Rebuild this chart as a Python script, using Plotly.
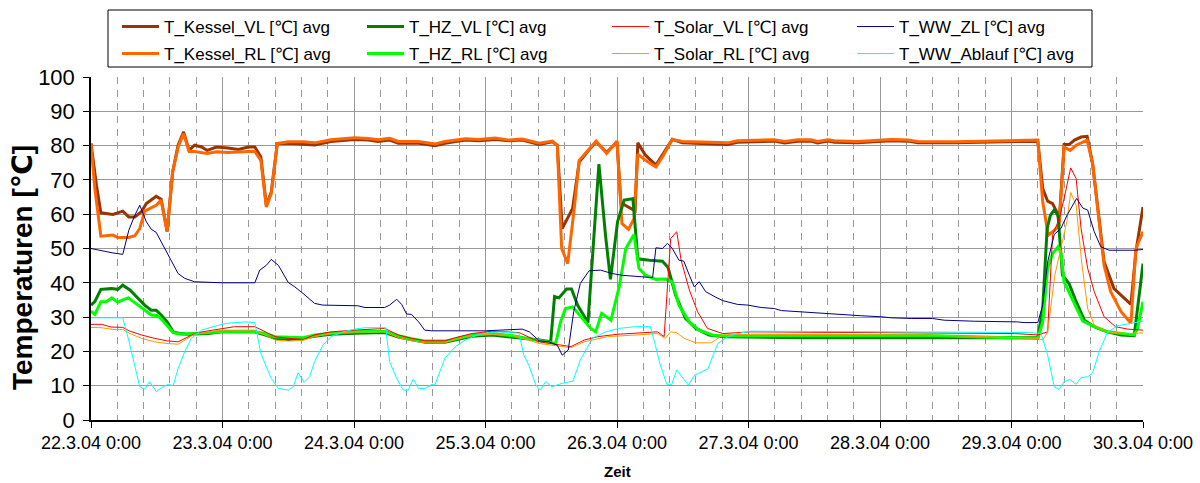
import plotly.graph_objects as go

# x axis: hours since 22.3.04 0:00, one labelled tick per day
tick_hours = [0, 24, 48, 72, 96, 120, 144, 168, 192]
tick_labels = ["22.3.04 0:00", "23.3.04 0:00", "24.3.04 0:00", "25.3.04 0:00",
               "26.3.04 0:00", "27.3.04 0:00", "28.3.04 0:00", "29.3.04 0:00",
               "30.3.04 0:00"]

# (hour, temperature) readings per sensor
kessel_vl = [(0, 80.6), (1.0, 68.4), (1.8, 60.4), (4.0, 59.9), (5.8, 60.9), (6.9, 59.2), (8.0, 59.2),
             (9.2, 60.7), (10.1, 63.1), (11.9, 65.2), (12.8, 64.4), (13.9, 55.0), (14.9, 72.3),
             (15.9, 80.1), (16.9, 84.0), (17.9, 78.6), (18.9, 80.1), (20.2, 79.6), (21.2, 78.6),
             (22.9, 79.6), (25.0, 79.3), (26.9, 78.9), (28.7, 79.6), (29.9, 79.6), (31.0, 76.7),
             (32.0, 62.6), (32.9, 66.5), (34.0, 80.6), (36.0, 80.7), (38.7, 80.3), (40.8, 80.2),
             (43.8, 81.2), (48.1, 81.8), (50.6, 81.6), (52.4, 81.2), (54.5, 81.6), (56.1, 80.7),
             (59.8, 80.7), (62.8, 80.0), (64.6, 80.7), (68.3, 81.6), (70.8, 81.4), (73.8, 81.8),
             (76.3, 81.4), (78.7, 81.6), (81.8, 80.3), (84.2, 81.1), (85.1, 80.1), (86.0, 55.8),
             (87.9, 61.7), (89.1, 75.2), (90.6, 78.2), (92.2, 81.1), (94.1, 78.0), (96.0, 81.1),
             (96.7, 63.3), (98.2, 62.1), (99.3, 61.0), (99.8, 80.8), (101.2, 77.2), (103.1, 74.3),
             (104.3, 77.2), (106.1, 81.8), (107.9, 80.8), (113.0, 80.6), (116.2, 80.3), (118.0, 81.0),
             (124.7, 81.3), (126.6, 80.8), (129.0, 81.3), (131.4, 81.3), (132.6, 80.8), (134.5, 81.3),
             (135.7, 81.0), (139.9, 80.8), (146.0, 81.4), (149.1, 81.3), (150.9, 80.8), (157.6, 80.8),
             (166.7, 81.0), (172.8, 81.3), (173.7, 67.5), (174.6, 63.8), (175.5, 63.1), (176.4, 60.2),
             (176.7, 57.8), (177.6, 80.3), (178.5, 80.3), (179.5, 81.6), (180.7, 82.5), (181.8, 82.7),
             (182.8, 74.8), (183.7, 62.6), (184.9, 46.1), (186.7, 38.3), (188.6, 35.4), (189.8, 33.7),
             (190.7, 49.0), (192, 62.1)]

kessel_rl = [(0, 80.6), (0.7, 67.5), (1.8, 53.6), (4.0, 53.9), (4.9, 53.2), (6.9, 53.2), (8.0, 53.7),
             (8.9, 55.8), (9.8, 60.9), (11.9, 62.6), (12.8, 64.1), (13.9, 54.9), (14.9, 72.3),
             (15.9, 79.6), (16.9, 83.5), (17.9, 78.3), (18.9, 78.3), (21.2, 77.7), (22.9, 78.2),
             (25.0, 78.0), (28.7, 78.3), (29.9, 78.3), (31.0, 75.7), (32.0, 62.1), (32.9, 66.0),
             (34.0, 80.6), (36.0, 81.1), (38.7, 81.1), (40.8, 80.8), (43.8, 81.7), (48.1, 82.3),
             (50.6, 82.1), (52.4, 81.7), (54.5, 82.1), (56.1, 81.2), (59.8, 81.2), (62.8, 80.5),
             (64.6, 81.2), (68.3, 82.0), (70.8, 81.8), (73.8, 82.2), (76.3, 81.6), (78.7, 81.9),
             (81.8, 80.7), (84.2, 81.3), (85.1, 80.1), (85.9, 50.0), (87.0, 45.6), (88.2, 61.7),
             (89.1, 75.7), (92.2, 81.3), (94.1, 77.7), (96.0, 81.3), (96.9, 57.3), (98.1, 55.6),
             (99.1, 58.7), (99.8, 77.5), (101.2, 75.7), (103.1, 73.8), (104.3, 76.7), (106.1, 81.8),
             (107.9, 81.2), (113.0, 81.0), (116.2, 80.8), (118.0, 81.4), (124.7, 81.7), (126.6, 81.2),
             (129.0, 81.7), (131.4, 81.7), (132.6, 81.2), (134.5, 81.7), (135.7, 81.4), (139.9, 81.2),
             (146.0, 81.8), (149.1, 81.6), (150.9, 81.2), (157.6, 81.1), (166.7, 81.3), (172.8, 81.6),
             (173.7, 63.6), (174.7, 53.9), (175.8, 55.3), (176.7, 56.8), (177.6, 79.6), (178.7, 78.6),
             (179.8, 80.1), (181.8, 81.6), (182.8, 74.8), (183.7, 61.7), (184.9, 45.1), (186.1, 37.4),
             (188.0, 31.6), (189.8, 28.2), (190.7, 50.0), (192, 54.9)]

hz_vl = [(0, 33.5), (0.7, 34.5), (1.8, 38.1), (3.7, 38.3), (4.9, 38.1), (5.8, 39.3), (7.1, 37.9),
         (8.6, 35.4), (9.8, 33.5), (11.0, 32.0), (11.9, 32.0), (12.8, 30.6), (13.9, 28.6), (15.0, 25.7),
         (16.2, 25.2), (17.7, 25.0), (21.4, 25.2), (23.8, 25.7), (29.9, 25.7), (31.7, 24.8),
         (33.6, 23.8), (36.0, 23.5), (38.7, 23.8), (40.8, 24.4), (43.8, 25.0), (48.1, 25.3),
         (53.6, 25.5), (56.1, 24.2), (58.5, 23.4), (61.0, 22.7), (64.6, 22.7), (66.5, 23.4),
         (69.5, 24.4), (73.2, 24.8), (77.2, 24.2), (81.8, 23.3), (83.9, 22.8), (84.6, 36.0),
         (85.4, 35.6), (86.8, 38.2), (87.7, 38.2), (88.8, 33.5), (90.7, 28.4), (92.7, 74.6),
         (93.9, 53.9), (94.8, 41.0), (96.1, 57.8), (97.3, 64.1), (98.9, 64.5), (99.8, 47.0),
         (101.9, 46.6), (104.3, 46.3), (105.3, 44.5), (106.7, 36.4), (108.5, 29.6), (110.4, 26.7),
         (112.8, 24.8), (115.5, 24.3), (130.0, 24.0), (153.0, 24.0), (158.8, 23.8), (172.8, 24.0),
         (173.7, 32.5), (174.5, 55.8), (175.1, 59.7), (175.8, 61.2), (176.5, 59.7), (177.3, 42.2),
         (178.5, 39.8), (179.8, 34.5), (181.3, 29.1), (183.1, 27.2), (185.5, 25.7), (188.0, 24.8),
         (190.4, 24.6), (191.0, 32.5), (192, 45.6)]

hz_rl = [(0, 31.7), (0.7, 30.8), (1.8, 34.5), (2.8, 34.5), (3.8, 35.6), (4.9, 34.3), (5.8, 35.0),
         (6.8, 35.6), (8.6, 33.5), (9.8, 32.0), (11.0, 30.6), (12.2, 30.4), (13.2, 28.8), (15.0, 25.5),
         (16.5, 25.0), (23.8, 25.7), (29.9, 25.7), (31.7, 25.2), (33.6, 24.3), (38.7, 24.0),
         (40.8, 24.8), (43.8, 25.3), (48.1, 25.7), (53.6, 25.9), (56.1, 24.6), (58.5, 23.7),
         (61.0, 23.0), (64.6, 23.0), (66.5, 23.6), (69.5, 24.8), (73.2, 25.2), (77.2, 24.5),
         (81.8, 23.3), (84.8, 22.3), (85.7, 28.6), (86.6, 32.5), (87.9, 33.0), (89.4, 30.1),
         (91.2, 26.7), (92.1, 25.7), (93.2, 31.1), (94.9, 29.1), (96.4, 38.8), (97.6, 50.0),
         (99.1, 54.1), (100.0, 44.2), (101.2, 42.2), (103.1, 41.0), (104.9, 41.1), (106.1, 40.3),
         (107.3, 33.5), (109.2, 28.6), (111.0, 26.2), (113.4, 24.8), (115.5, 24.5), (130.0, 24.6),
         (152.7, 24.6), (172.8, 23.8), (173.7, 28.6), (174.6, 44.2), (175.5, 48.5), (176.5, 50.5),
         (177.0, 49.0), (177.6, 40.3), (179.5, 34.0), (181.0, 28.8), (183.1, 27.2), (185.5, 25.7),
         (190.4, 24.8), (191.0, 26.7), (192, 34.5)]

solar_vl = [(0, 27.9), (1.9, 27.9), (3.7, 27.1), (5.8, 27.0), (7.1, 25.9), (9.2, 24.8), (11.6, 23.8),
            (13.8, 23.1), (15.9, 22.8), (17.1, 23.8), (18.9, 25.2), (21.4, 26.0), (23.8, 26.7),
            (26.2, 27.2), (29.9, 27.2), (31.7, 25.7), (33.6, 24.3), (36.0, 23.8), (38.7, 23.5),
            (40.8, 24.8), (43.8, 25.7), (48.1, 26.2), (53.6, 26.7), (56.1, 24.8), (58.5, 23.8),
            (61.0, 23.1), (64.6, 23.1), (66.5, 24.0), (69.5, 25.2), (73.2, 25.9), (78.1, 25.5),
            (81.8, 22.8), (84.2, 22.3), (87.6, 21.4), (90.0, 23.3), (92.5, 24.3), (96.1, 25.0),
            (101.6, 25.5), (103.4, 25.7), (104.6, 24.3), (105.8, 52.9), (106.9, 54.9), (107.7, 46.6),
            (109.2, 37.9), (110.7, 31.6), (112.5, 26.7), (115.3, 25.2), (120.5, 25.7), (152.7, 25.5),
            (168.5, 25.2), (172.8, 24.8), (174.6, 25.7), (175.5, 53.9), (176.7, 58.7), (177.6, 64.6),
            (178.8, 73.5), (179.8, 70.4), (180.7, 55.8), (181.9, 44.2), (183.1, 37.4), (184.9, 30.1),
            (187.0, 27.2), (189.2, 26.5), (192, 26.2)]

solar_rl = [(0, 27.0), (1.9, 26.9), (4.0, 26.4), (5.8, 26.4), (7.1, 25.2), (9.2, 23.8), (11.6, 22.8),
            (13.8, 22.3), (15.9, 22.1), (17.1, 23.3), (18.9, 25.0), (21.4, 25.7), (23.8, 26.2),
            (29.9, 26.2), (31.7, 24.8), (33.6, 23.3), (36.0, 23.0), (38.7, 23.2), (40.8, 24.3),
            (43.8, 25.2), (48.1, 25.7), (53.6, 25.7), (56.1, 24.0), (58.5, 23.1), (61.0, 22.5),
            (64.6, 22.5), (66.5, 23.5), (69.5, 24.6), (73.2, 25.0), (77.2, 24.6), (81.8, 22.3),
            (87.6, 21.1), (90.0, 22.8), (94.3, 24.3), (101.6, 25.0), (103.4, 25.2), (104.8, 23.8),
            (105.8, 25.7), (106.8, 25.5), (108.3, 23.8), (110.4, 22.5), (113.2, 22.5), (115.3, 24.8),
            (120.0, 25.0), (152.7, 24.8), (172.8, 23.8), (173.7, 23.3), (174.6, 25.7), (175.9, 42.2),
            (177.0, 50.0), (178.1, 57.8), (178.8, 66.3), (179.8, 62.6), (180.8, 46.1), (181.9, 32.5),
            (183.1, 27.7), (185.5, 25.7), (189.2, 25.2), (192, 25.4)]

ww_zl = [(0, 50.0), (1.9, 49.3), (4.0, 48.7), (5.8, 48.3), (6.9, 55.3), (8.0, 59.7), (8.9, 62.6),
         (10.1, 57.8), (11.0, 55.6), (11.9, 54.7), (13.2, 50.8), (14.4, 47.1), (15.9, 42.7),
         (17.1, 41.3), (18.9, 40.3), (24.0, 40.0), (29.9, 40.0), (30.8, 43.7), (32.0, 45.1),
         (32.9, 46.8), (34.2, 45.1), (36.0, 40.1), (37.2, 38.8), (38.7, 36.9), (40.8, 34.0),
         (42.3, 33.5), (48.7, 33.3), (50.0, 32.8), (53.6, 32.8), (54.5, 33.5), (55.8, 35.2),
         (56.7, 33.7), (57.6, 30.9), (58.5, 30.8), (59.8, 28.6), (60.9, 26.2), (62.2, 26.0),
         (72.0, 26.0), (78.7, 26.5), (80.0, 25.7), (81.8, 23.1), (83.6, 22.8), (85.1, 21.8),
         (86.0, 18.9), (87.1, 20.4), (88.1, 31.6), (89.3, 39.8), (90.9, 43.5), (93.0, 43.7),
         (95.1, 42.7), (96.9, 42.2), (99.3, 41.9), (102.5, 41.5), (103.1, 50.2), (104.3, 50.0),
         (105.2, 51.5), (106.1, 50.0), (107.3, 46.6), (108.2, 46.3), (109.2, 42.2), (110.1, 38.8),
         (111.0, 40.3), (112.2, 37.4), (113.9, 35.9), (115.3, 34.8), (118.0, 33.7), (119.9, 33.5),
         (122.3, 32.8), (124.7, 32.5), (126.0, 31.9), (129.0, 31.6), (132.0, 31.1), (135.7, 30.8),
         (140.5, 30.4), (144.2, 30.1), (146.0, 29.8), (149.7, 29.6), (153.6, 29.6), (155.7, 29.1),
         (161.2, 28.8), (169.1, 28.6), (170.3, 28.4), (172.8, 28.4), (173.7, 33.5), (174.6, 46.1),
         (175.8, 54.1), (177.0, 55.8), (178.2, 59.9), (179.9, 64.6), (181.0, 61.8), (181.9, 61.2),
         (183.1, 54.9), (184.3, 50.5), (185.8, 49.5), (190.4, 49.5), (192, 49.7)]

ww_ablauf = [(0, 29.8), (5.8, 29.8), (6.8, 23.8), (8.0, 16.0), (8.9, 9.7), (9.8, 9.0), (10.7, 11.2),
             (11.9, 8.3), (13.2, 9.7), (14.1, 10.4), (15.0, 10.0), (15.9, 15.0), (17.1, 19.9),
             (18.3, 23.8), (20.2, 26.2), (22.3, 27.2), (24.7, 28.2), (28.1, 28.6), (29.9, 28.4),
             (31.0, 19.4), (32.9, 12.1), (34.2, 9.2), (36.0, 8.7), (36.9, 9.7), (37.8, 13.8),
             (38.9, 11.0), (39.9, 12.6), (40.8, 17.0), (42.3, 21.8), (43.8, 24.3), (46.0, 25.7),
             (48.1, 26.5), (50.0, 26.9), (53.8, 26.9), (54.5, 17.0), (55.8, 12.1), (57.0, 8.7),
             (57.9, 8.7), (58.8, 11.9), (59.8, 9.2), (61.0, 9.2), (62.2, 10.4), (62.8, 10.4),
             (64.6, 18.0), (66.5, 21.4), (68.3, 23.3), (70.8, 25.0), (74.4, 25.7), (78.1, 25.3),
             (79.0, 18.9), (79.9, 16.0), (81.2, 10.2), (82.0, 8.7), (83.0, 11.2), (84.1, 9.7),
             (86.0, 10.7), (88.0, 11.4), (89.3, 17.5), (91.5, 23.8), (93.9, 25.7), (96.3, 26.7),
             (99.3, 27.2), (102.1, 27.2), (103.0, 21.8), (103.9, 16.0), (105.1, 10.4), (106.0, 10.4),
             (106.9, 14.6), (109.0, 10.2), (110.2, 13.1), (111.4, 14.1), (112.6, 14.9), (113.8, 19.9),
             (114.4, 22.3), (116.2, 24.3), (118.0, 25.2), (120.5, 25.9), (152.7, 25.7), (170.9, 25.5),
             (173.4, 25.2), (174.6, 18.9), (175.8, 9.7), (176.7, 8.9), (177.6, 11.2), (178.7, 11.8),
             (179.8, 10.4), (180.7, 12.4), (181.9, 12.6), (182.8, 13.6), (184.0, 19.9), (185.5, 25.5),
             (187.4, 27.5), (190.4, 28.4), (192, 28.8)]

# name, readings, colour, line width, legend row
series = [
    ("T_Kessel_VL [℃] avg", kessel_vl, "#993300", 3, "legend"),
    ("T_Kessel_RL [℃] avg", kessel_rl, "#FF6600", 3, "legend2"),
    ("T_HZ_VL [℃] avg", hz_vl, "#008000", 3, "legend"),
    ("T_HZ_RL [℃] avg", hz_rl, "#00FF00", 3, "legend2"),
    ("T_Solar_VL [℃] avg", solar_vl, "#FF0000", 1, "legend"),
    ("T_Solar_RL [℃] avg", solar_rl, "#FF9900", 1, "legend2"),
    ("T_WW_ZL [℃] avg", ww_zl, "#000080", 1, "legend"),
    ("T_WW_Ablauf [℃] avg", ww_ablauf, "#00FFFF", 1, "legend2"),
]

FONT = "Arial, Liberation Sans, DejaVu Sans, sans-serif"
W, H = 1200, 483
L, R, T, B = 91, 57, 77, 63
PW, PH = W - L - R, H - T - B


def px_x(p):
    return (p - L) / PW


def px_y(p):
    return (H - B - p) / PH


fig = go.Figure()
for name, pts, color, width, leg in series:
    fig.add_trace(go.Scatter(
        x=[p[0] for p in pts], y=[p[1] for p in pts], name=name, mode="lines",
        line=dict(color=color, width=width), legend=leg,
    ))

legend_common = dict(
    orientation="h", xanchor="left", yanchor="middle",
    font=dict(family=FONT, size=17, color="#000000"),
    bgcolor="rgba(0,0,0,0)", borderwidth=0,
    entrywidth=193, entrywidthmode="pixels", itemwidth=37,
)

fig.update_layout(
    width=W, height=H,
    margin=dict(l=L, r=R, t=T, b=B, autoexpand=False),
    paper_bgcolor="#FFFFFF", plot_bgcolor="#FFFFFF",
    font=dict(family=FONT, color="#000000"),
    legend=dict(x=px_x(117), y=px_y(27), **legend_common),
    legend2=dict(x=px_x(117), y=px_y(54), **legend_common),
    shapes=[dict(type="rect", xref="paper", yref="paper",
                 x0=px_x(108), x1=px_x(1092), y0=px_y(67), y1=px_y(10),
                 line=dict(color="#000000", width=1))],
    annotations=[
        dict(text="<b>Temperaturen [℃]</b>", textangle=-90, xref="paper", yref="paper",
             x=px_x(22), y=px_y(268), xanchor="center", yanchor="middle", showarrow=False,
             font=dict(size=28, family=FONT, color="#000000")),
        dict(text="<b>Zeit</b>", xref="paper", yref="paper",
             x=px_x(617), y=px_y(482), xanchor="center", yanchor="bottom", showarrow=False,
             font=dict(size=15, family=FONT, color="#000000")),
    ],
    xaxis=dict(
        range=[0, 192], tickmode="array", tickvals=tick_hours, ticktext=tick_labels,
        tickfont=dict(size=18, family=FONT), ticks="outside", ticklen=6, tickcolor="#000000",
        automargin=False,
        showline=True, linecolor="#000000", linewidth=1.5, zeroline=False,
        showgrid=True, gridcolor="#999999", gridwidth=1,
        minor=dict(dtick=4.8, tick0=0, showgrid=True, gridcolor="#999999",
                   griddash="7px,6px", gridwidth=1, ticks=""),
    ),
    yaxis=dict(
        range=[0, 100], dtick=10, tick0=0,
        tickfont=dict(size=22, family=FONT), ticks="outside", ticklen=6, tickcolor="#000000",
        ticklabelstandoff=4, automargin=False,
        showline=True, linecolor="#000000", linewidth=1.5, zeroline=False,
        showgrid=True, gridcolor="#999999", gridwidth=1,
    ),
)

fig.write_html("out.html")
